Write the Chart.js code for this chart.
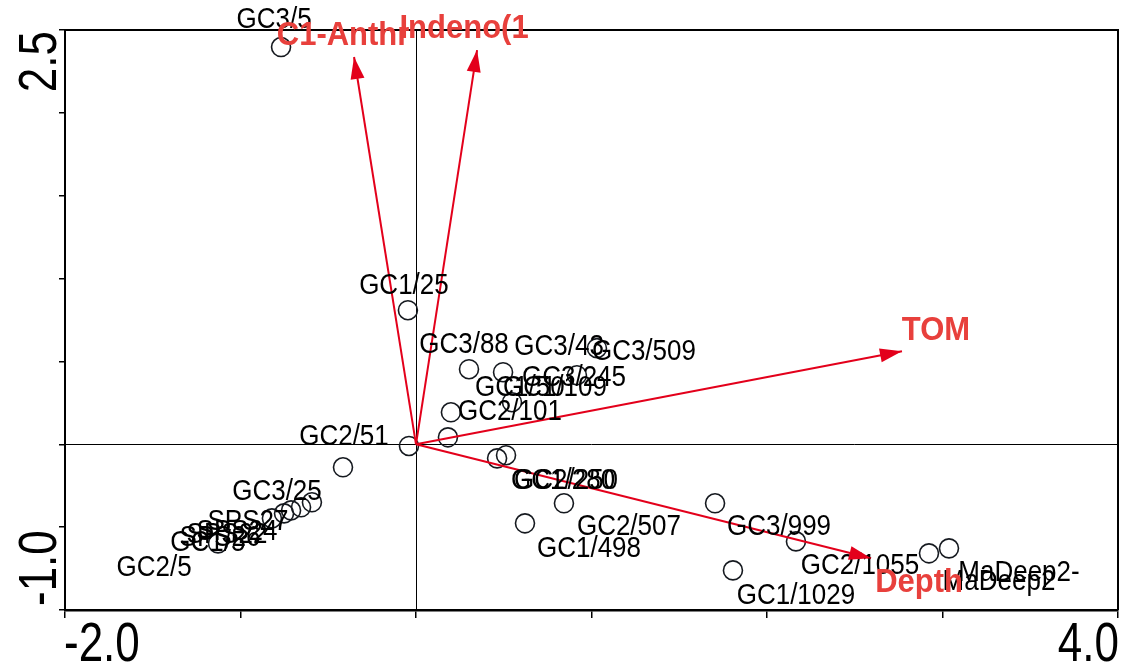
<!DOCTYPE html>
<html>
<head>
<meta charset="utf-8">
<script src="https://cdn.jsdelivr.net/npm/chart.js@4.4.1/dist/chart.umd.min.js"></script>
<style>
  html, body { margin: 0; padding: 0; background: #ffffff; }
  canvas { display: block; }
</style>
</head>
<body>
<canvas id="biplot" width="1121" height="668"></canvas>
<script>
// Sample scores (axis 1, axis 2)
const sampleNames = ['GC3/5', 'GC1/25', 'GC3/88', 'GC3/43', 'GC3/509', 'GC3/245', 'GC1/50', 'GC1/109',
  'GC2/101', 'GC2/51', 'GC1/280', 'GC2/250', 'GC2/507', 'GC1/498', 'GC3/999', 'GC2/1055', 'GC1/1029',
  'MaDeep2', 'MaDeep2-', 'GC3/25', 'SPS27', 'SPS24', 'SPS22', 'SPS26', 'GC1/5', 'GC2/5'];
const sampleX = [-0.769, -0.046, 0.302, 0.496, 1.031, 0.547, 0.199, 0.917,
  0.182, -0.040, 0.462, 0.513, 0.843, 0.621, 1.704, 2.165, 1.806,
  2.923, 3.037, -0.416, -0.593, -0.655, -0.712, -0.752, -0.821, -1.128];
const sampleY = [2.397, 0.809, 0.453, 0.435, 0.580, 0.254, 0.193, 0.417,
  0.042, -0.010, -0.085, -0.066, -0.356, -0.477, -0.356, -0.586, -0.761,
  -0.658, -0.628, -0.139, -0.350, -0.380, -0.399, -0.417, -0.447, -0.598];

// Environmental variable arrows (biplot scores)
const varNames = ['C1-Anthr', 'Indeno(1', 'TOM', 'Depth'];
const varX = [-0.353, 0.348, 2.769, 2.593];
const varY = [2.337, 2.379, 0.562, -0.688];

// Axis ranges and the tick labels printed at the ends
const xRange = [-2.0, 4.0];
const yRange = [-1.0, 2.5];
const xTickLabels = ['-2.0', '4.0'];
const yTickLabels = ['-1.0', '2.5'];

// Label placement (pixel offsets from each marker / arrow tip)
const sampleLabelDx = [-7, -4, -5, 56, 47, 62, 69, -22,
  62, -65, 66, 60, 65, 64, 64, 64, 63,
  70, 70, -66, -64, -64, -64, -64, -64, -64];
const sampleLabelDy = [-27, -24, -24, -25, 4, -24, -24, 13,
  -25, -9, 23, 26, 24, 26, 24, 25, 26,
  29, 25, 25, 20, 25, 25, 25, 25, 25];
const varLabelDx = [-11, -13, 34, 48];
const varLabelDy = [-21, -21, -20, 25];

const RED = '#e3001b';
const RED_TEXT = '#e8403c';
const INK = '#15191f';
const FONT = '"Liberation Sans", Arial, sans-serif';

const points = sampleX.map((x, i) => ({ x, y: sampleY[i] }));
const arrowSets = varNames.map((name, i) => ({
  label: name,
  type: 'line',
  data: [{ x: 0, y: 0 }, { x: varX[i], y: varY[i] }],
  borderColor: RED,
  borderWidth: 2,
  pointRadius: 0,
  fill: false,
  order: 0
}));

function stretchedText(ctx, text, x, y, sy) {
  ctx.save();
  ctx.translate(x, y);
  ctx.scale(1, sy);
  ctx.fillText(text, 0, 0);
  ctx.restore();
}

const biplotDecor = {
  id: 'biplotDecor',
  beforeDatasetsDraw(chart) {
    const { ctx, chartArea: a, scales: { x, y } } = chart;
    const x0 = x.getPixelForValue(0), y0 = y.getPixelForValue(0);
    ctx.save();
    ctx.strokeStyle = '#000';
    ctx.lineWidth = 1;
    ctx.beginPath();
    ctx.moveTo(a.left, Math.round(y0) + 0.5);
    ctx.lineTo(a.right, Math.round(y0) + 0.5);
    ctx.moveTo(Math.round(x0) + 0.5, a.top);
    ctx.lineTo(Math.round(x0) + 0.5, a.bottom);
    ctx.stroke();
    ctx.restore();
  },
  afterDatasetsDraw(chart) {
    const { ctx, chartArea: a, scales: { x, y } } = chart;
    // frame (top and right)
    ctx.save();
    ctx.strokeStyle = '#000';
    ctx.lineWidth = 2;
    ctx.beginPath();
    ctx.moveTo(a.left, a.top);
    ctx.lineTo(a.right, a.top);
    ctx.lineTo(a.right, a.bottom);
    ctx.stroke();
    ctx.restore();

    // sample labels
    ctx.save();
    ctx.fillStyle = '#000';
    ctx.font = '26px ' + FONT;
    ctx.textAlign = 'center';
    ctx.textBaseline = 'middle';
    sampleNames.forEach((name, i) => {
      const px = x.getPixelForValue(sampleX[i]) + sampleLabelDx[i];
      const py = y.getPixelForValue(sampleY[i]) + sampleLabelDy[i];
      stretchedText(ctx, name, px, py, 1.12);
    });
    ctx.restore();

    // arrow heads and variable labels
    const ox = x.getPixelForValue(0), oy = y.getPixelForValue(0);
    ctx.save();
    varNames.forEach((name, i) => {
      const tx = x.getPixelForValue(varX[i]), ty = y.getPixelForValue(varY[i]);
      const ang = Math.atan2(ty - oy, tx - ox);
      const len = 22, half = 7;
      const bx = tx - len * Math.cos(ang), by = ty - len * Math.sin(ang);
      ctx.fillStyle = RED;
      ctx.beginPath();
      ctx.moveTo(tx, ty);
      ctx.lineTo(bx + half * Math.sin(ang), by - half * Math.cos(ang));
      ctx.lineTo(bx - half * Math.sin(ang), by + half * Math.cos(ang));
      ctx.closePath();
      ctx.fill();

      ctx.fillStyle = RED_TEXT;
      ctx.font = 'bold 31px ' + FONT;
      ctx.textAlign = 'center';
      ctx.textBaseline = 'middle';
      stretchedText(ctx, name, tx + varLabelDx[i], ty + varLabelDy[i], 1.05);
    });
    ctx.restore();

    // end tick labels
    ctx.save();
    ctx.fillStyle = '#000';
    ctx.font = '44px ' + FONT;
    ctx.textBaseline = 'middle';
    ctx.textAlign = 'left';
    stretchedText(ctx, xTickLabels[0], x.getPixelForValue(xRange[0]) - 1, a.bottom + 36, 1.25);
    ctx.textAlign = 'right';
    stretchedText(ctx, xTickLabels[1], x.getPixelForValue(xRange[1]) + 1, a.bottom + 36, 1.25);

    // vertical axis labels, rotated
    const drawY = (txt, py, align) => {
      ctx.save();
      ctx.translate(41, py);
      ctx.rotate(-Math.PI / 2);
      ctx.scale(1, 1.2);
      ctx.textAlign = align;
      ctx.fillText(txt, 0, 0);
      ctx.restore();
    };
    drawY(yTickLabels[0], y.getPixelForValue(yRange[0]) - 4, 'left');
    drawY(yTickLabels[1], y.getPixelForValue(yRange[1]) + 1, 'right');
    ctx.restore();
  }
};

new Chart(document.getElementById('biplot'), {
  type: 'scatter',
  data: {
    datasets: [
      ...arrowSets,
      {
        label: 'Samples',
        data: points,
        pointStyle: 'circle',
        pointRadius: 9.5,
        pointHoverRadius: 9.5,
        pointBorderWidth: 1.6,
        borderColor: INK,
        backgroundColor: 'rgba(0,0,0,0)',
        order: 1
      }
    ]
  },
  options: {
    responsive: false,
    animation: false,
    events: [],
    layout: { autoPadding: false, padding: { top: 30, right: 3, left: 0, bottom: 0 } },
    plugins: { legend: { display: false }, tooltip: { enabled: false } },
    scales: {
      x: {
        type: 'linear',
        min: xRange[0],
        max: xRange[1],
        ticks: { display: false, stepSize: 1 },
        grid: { drawOnChartArea: false, drawTicks: true, tickLength: 8, color: '#000', lineWidth: 1.5 },
        border: { display: true, color: '#000', width: 2.5 },
        afterFit(s) { s.height = 58; }
      },
      y: {
        type: 'linear',
        min: yRange[0],
        max: yRange[1],
        ticks: { display: false, stepSize: 0.5 },
        grid: { drawOnChartArea: false, drawTicks: true, tickLength: 6, color: '#000', lineWidth: 1.5 },
        border: { display: true, color: '#000', width: 2 },
        afterFit(s) { s.width = 65; }
      }
    }
  },
  plugins: [biplotDecor]
});
</script>
</body>
</html>
